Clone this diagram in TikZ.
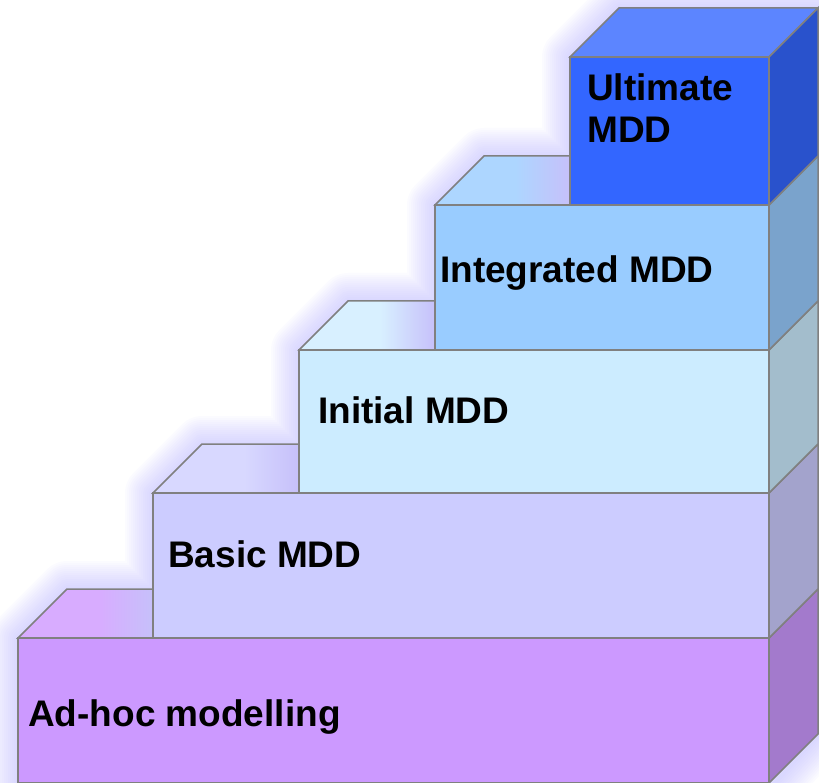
\documentclass[tikz,border=0pt]{standalone}
\usepackage{fontspec}
\setmainfont{Liberation Sans}
\begin{document}
\begin{tikzpicture}[x=1pt,y=-1pt,line join=miter]
% ---------- colours ----------
\definecolor{edgec}{RGB}{128,128,128}
\definecolor{glowc}{RGB}{185,180,255}
\definecolor{shadec}{RGB}{198,192,250}
\definecolor{aFront}{RGB}{204,153,255}\definecolor{aTop}{RGB}{216,172,255}\definecolor{aSide}{RGB}{163,122,204}
\definecolor{bFront}{RGB}{204,204,255}\definecolor{bTop}{RGB}{216,216,255}\definecolor{bSide}{RGB}{163,163,204}
\definecolor{cFront}{RGB}{204,236,255}\definecolor{cTop}{RGB}{216,240,255}\definecolor{cSide}{RGB}{163,189,204}
\definecolor{dFront}{RGB}{153,204,255}\definecolor{dTop}{RGB}{173,214,255}\definecolor{dSide}{RGB}{122,163,204}
\definecolor{eFront}{RGB}{51,102,255}\definecolor{eTop}{RGB}{92,133,255}\definecolor{eSide}{RGB}{41,82,204}
\tikzset{
  face/.style={draw=edgec,line width=1.5pt},
  label/.style={anchor=base west,inner sep=0pt,font=\fontsize{37}{42.5}\selectfont\bfseries,text=black,align=left},
}
\useasboundingbox (0,0) rectangle (819,783);
\clip (0,0) rectangle (819,783);
% ---------- soft halo round the staircase ----------
\foreach \w in {4,8,...,56}{
  \draw[glowc,line width=\w pt,line join=round,opacity=0.05]
    (18,790) -- (18,638) -- (67,589) -- (153,589) -- (153,493) -- (202,444)
    -- (299,444) -- (299,350) -- (348,301) -- (435,301) -- (435,205) -- (484,156)
    -- (570,156) -- (570,57) -- (619,8) -- (818,8) -- (818,735) -- (769,790) -- cycle;
}
% ---------- one step: front face, top face, side face ----------
% #1 left x, #2 front top y, #3 front bottom y, #4 front, #5 top, #6 side, #7 next riser x (or none)
\newcommand{\stairstep}[7]{%
  \fill[#5] (#1,#2) -- (769,#2) -- (818,#2-49) -- (#1+49,#2-49) -- cycle;
  \def\riser{#7}\def\none{none}%
  \ifx\riser\none\else
    \begin{scope}
      \clip (#1,#2) -- (769,#2) -- (818,#2-49) -- (#1+49,#2-49) -- cycle;
      \shade[left color=#5,right color=shadec] (#7-55,#2+1) rectangle (#7,#2-50);
    \end{scope}
  \fi
  \draw[face] (#1,#2) -- (769,#2) -- (818,#2-49) -- (#1+49,#2-49) -- cycle;
  \draw[face,fill=#6] (769,#2) -- (818,#2-49) -- (818,#3-49) -- (769,#3) -- cycle;
  \draw[face,fill=#4] (#1,#2) rectangle (769,#3);
}
\stairstep{18}{638}{783}{aFront}{aTop}{aSide}{153}
\stairstep{153}{493}{638}{bFront}{bTop}{bSide}{299}
\stairstep{299}{350}{493}{cFront}{cTop}{cSide}{435}
\stairstep{435}{205}{350}{dFront}{dTop}{dSide}{570}
\stairstep{570}{57}{205}{eFront}{eTop}{eSide}{none}
% ---------- captions ----------
\node[label] (adhoc) at (28,726) {Ad-hoc modelling};
\node[label] (basic) at (168,567) {Basic MDD};
\node[label] (initial) at (318,423.5) {Initial MDD};
\node[label] (integrated) at (440,283) {Integrated MDD};
\node[label] (ultimate) at (587,143) {Ultimate\\MDD};
\end{tikzpicture}
\end{document}
